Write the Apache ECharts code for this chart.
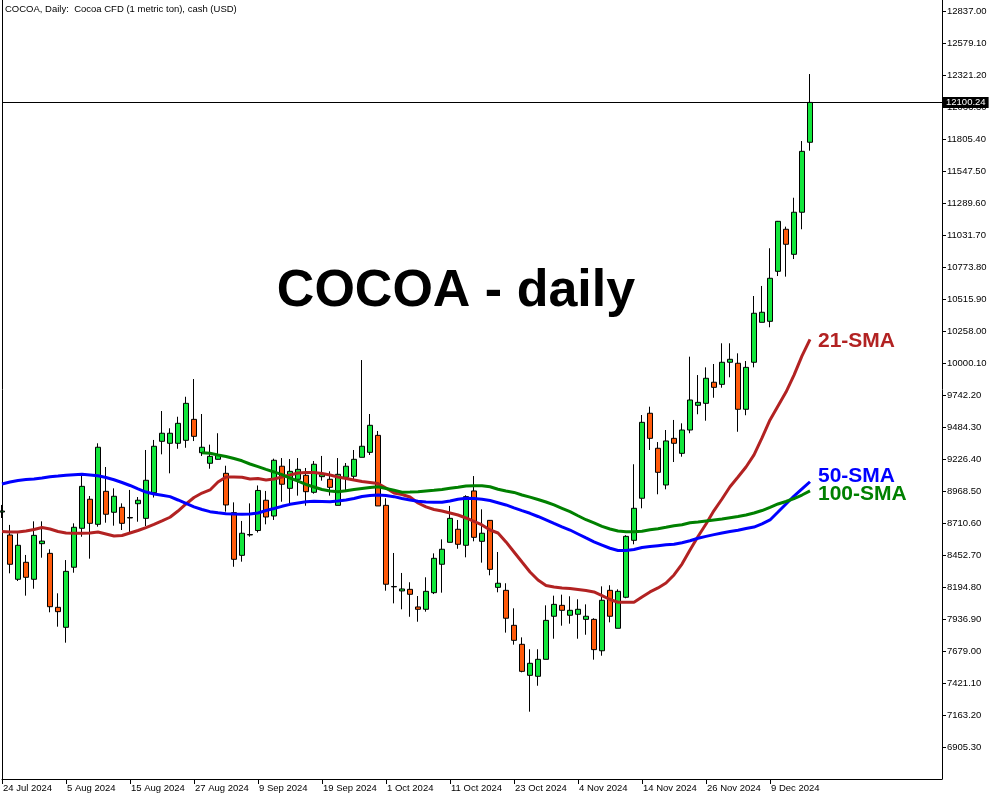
<!DOCTYPE html>
<html><head><meta charset="utf-8">
<script src="https://cdn.jsdelivr.net/npm/echarts@6/dist/echarts.min.js"></script>
<style>html,body{margin:0;padding:0;background:#fff}#c{width:1000px;height:800px}</style>
</head><body><div id="c"></div>
<script>
const dates = ['24 Jul 2024','25 Jul 2024','26 Jul 2024','29 Jul 2024','30 Jul 2024','31 Jul 2024',
'1 Aug 2024','2 Aug 2024','5 Aug 2024','6 Aug 2024','7 Aug 2024','8 Aug 2024','9 Aug 2024',
'12 Aug 2024','13 Aug 2024','14 Aug 2024','15 Aug 2024','16 Aug 2024','19 Aug 2024','20 Aug 2024',
'21 Aug 2024','22 Aug 2024','23 Aug 2024','26 Aug 2024','27 Aug 2024','28 Aug 2024','29 Aug 2024',
'30 Aug 2024','3 Sep 2024','4 Sep 2024','5 Sep 2024','6 Sep 2024','9 Sep 2024','10 Sep 2024',
'11 Sep 2024','12 Sep 2024','13 Sep 2024','16 Sep 2024','17 Sep 2024','18 Sep 2024','19 Sep 2024',
'20 Sep 2024','23 Sep 2024','24 Sep 2024','25 Sep 2024','26 Sep 2024','27 Sep 2024','30 Sep 2024',
'1 Oct 2024','2 Oct 2024','3 Oct 2024','4 Oct 2024','7 Oct 2024','8 Oct 2024','9 Oct 2024',
'10 Oct 2024','11 Oct 2024','14 Oct 2024','15 Oct 2024','16 Oct 2024','17 Oct 2024','18 Oct 2024',
'21 Oct 2024','22 Oct 2024','23 Oct 2024','24 Oct 2024','25 Oct 2024','28 Oct 2024','29 Oct 2024',
'30 Oct 2024','31 Oct 2024','1 Nov 2024','4 Nov 2024','5 Nov 2024','6 Nov 2024','7 Nov 2024',
'8 Nov 2024','11 Nov 2024','12 Nov 2024','13 Nov 2024','14 Nov 2024','15 Nov 2024','18 Nov 2024',
'19 Nov 2024','20 Nov 2024','21 Nov 2024','22 Nov 2024','25 Nov 2024','26 Nov 2024','27 Nov 2024',
'29 Nov 2024','2 Dec 2024','3 Dec 2024','4 Dec 2024','5 Dec 2024','6 Dec 2024','9 Dec 2024',
'10 Dec 2024','11 Dec 2024','12 Dec 2024','13 Dec 2024','16 Dec 2024'];

const open = [8799,8614,8257,8394,8257,8544,8466,8031,7870,8354,
8668,8902,8700,8966,8797,8837,8751,8866,8748,8955,
9369,9353,9353,9377,9546,9277,9192,9224,9111,8794,
8450,8614,8650,8894,8767,9168,8990,9063,9095,8958,
9084,9063,8853,9079,9087,9240,9280,9417,8853,8196,
8163,8176,8034,8015,8149,8378,8555,8660,8531,8969,
8563,8732,8192,8168,7886,7733,7483,7475,7612,7959,
8047,7967,7975,7934,7934,7681,8168,7862,8112,8571,
8910,9595,9313,9017,9393,9272,9460,9659,9675,9845,
9828,10006,9998,9627,10006,10328,10336,10739,11078,10876,
11215,11779];
const close = [8807,8378,8531,8273,8611,8565,8036,7996,8321,8676,
9006,8708,9321,8781,8926,8708,8755,8894,9055,9329,
9434,9434,9514,9675,9409,9321,9248,9259,8856,8418,
8628,8618,8973,8759,9216,9023,9127,9143,8963,9184,
9100,8998,9103,9168,9224,9329,9498,8848,8217,8199,
8179,8136,8015,8160,8426,8499,8748,8539,8923,8595,
8628,8337,8225,7943,7765,7515,7580,7612,7926,8055,
8007,8007,8015,7959,7690,8088,7959,8160,8603,8829,
9522,9393,9119,9372,9353,9460,9702,9683,9877,9804,
10006,10030,9627,9965,10401,10409,10683,11142,10957,11215,
11706,12100.24];
const low = [8751,8305,8243,8125,8181,8431,7991,7875,7746,8310,
8600,8423,8681,8713,8689,8654,8628,8721,8686,8916,
9264,9111,9309,9317,9371,9251,9148,9222,8802,8358,
8399,8600,8634,8700,8735,8882,8861,8931,8850,8947,
9052,8931,8853,8971,9057,9240,9259,8848,8165,8063,
8015,7955,7915,7996,8138,8149,8555,8503,8434,8563,
8391,8289,8152,7827,7730,7507,7190,7399,7612,7778,
7883,7899,7778,7810,7609,7641,7910,7862,8104,8539,
8829,9299,8942,8982,9202,9245,9434,9587,9535,9720,
9801,9885,9446,9579,9965,10328,10288,10701,10696,10838,
11078,11711];
const high = [8856,8695,8628,8453,8724,8724,8499,8144,8412,8708,
9097,8928,9353,9162,8990,8869,8977,8920,9299,9380,
9613,9474,9567,9728,9871,9589,9342,9434,9172,8877,
8727,8869,9013,8969,9229,9234,9226,9234,9154,9210,
9251,9127,9234,9194,9299,10024,9589,9452,8910,8469,
8308,8233,8122,8273,8466,8579,8848,8735,8934,9089,
8821,8734,8477,8225,8023,7789,7693,7693,8047,8125,
8133,8120,8096,8055,7943,8200,8209,8176,8612,9184,
9581,9648,9363,9460,9541,9514,10051,9903,9965,9992,
10159,10159,10078,10016,10540,10621,10925,11145,11099,11332,
11789,12329];

const sma21 = [8642,8638,8638,8646,8658,8674,8662,8642,8630,8628,
8628,8630,8638,8622,8606,8610,8630,8650,8674,8699,
8727,8757,8807,8864,8916,8952,8977,9041,9081,9081,
9079,9065,9069,9057,9065,9081,9097,9114,9118,9118,
9110,9097,9081,9069,9057,9045,9037,9029,8993,8952,
8940,8920,8872,8840,8819,8807,8791,8775,8751,8723,
8695,8654,8630,8558,8477,8396,8316,8251,8207,8195,
8187,8183,8175,8167,8155,8126,8094,8072,8072,8072,
8114,8155,8187,8227,8292,8380,8493,8602,8703,8811,
8904,9003,9081,9162,9259,9396,9541,9654,9766,9903,
10057,10190];
const sma50 = [9025,9041,9053,9061,9065,9073,9084,9089,9095,9099,
9103,9097,9091,9077,9059,9037,9013,8985,8960,8944,
8934,8923,8896,8868,8840,8819,8802,8793,8786,8783,
8781,8783,8791,8811,8827,8845,8861,8872,8881,8886,
8884,8882,8888,8896,8908,8924,8932,8936,8932,8923,
8908,8896,8886,8880,8877,8877,8888,8902,8910,8908,
8902,8892,8874,8856,8832,8810,8789,8763,8735,8707,
8680,8654,8622,8590,8559,8533,8507,8489,8489,8497,
8513,8521,8528,8535,8539,8552,8568,8588,8603,8617,
8630,8642,8652,8666,8678,8704,8735,8799,8864,8928,
8985,9043];
const sma100 = [null,null,null,null,null,null,null,null,null,null,
null,null,null,null,null,null,null,null,null,null,
null,null,null,null,null,9277,9272,9259,9247,9230,
9212,9186,9165,9143,9122,9100,9073,9049,9021,9001,
8981,8969,8963,8971,8981,8989,8997,9003,8989,8975,
8959,8960,8963,8969,8974,8981,8990,8999,9009,9011,
9011,9003,8983,8969,8957,8936,8919,8900,8880,8856,
8829,8802,8769,8737,8711,8684,8662,8646,8641,8641,
8644,8656,8665,8676,8688,8697,8713,8719,8727,8735,
8743,8753,8763,8775,8791,8811,8836,8864,8884,8908,
8936,8969];

const xTickIdx = [0,8,16,24,32,40,48,56,64,72,80,88,96];
const yTicks = [6905.30,7163.20,7421.10,7679.00,7936.90,8194.80,8452.70,8710.60,8968.50,
9226.40,9484.30,9742.20,10000.10,10258.00,10515.90,10773.80,11031.70,11289.60,11547.50,
11805.40,12063.30,12321.20,12579.10,12837.00];
const lastPrice = 12100.24;

const FONT = '"Liberation Sans", Arial, sans-serif';
const Y_MIN = 6647.4, Y_MAX = 12925.65;

const candles = dates.map((d, i) => [i, open[i], close[i], low[i], high[i]]);
const toLine = arr => arr.map((v, i) => v == null ? null : [i, v]).filter(p => p);

const chart = echarts.init(document.getElementById('c'), null, {renderer: 'canvas'});
chart.setOption({
  animation: false,
  backgroundColor: '#fff',
  grid: {left: 2, top: 0, right: 58, bottom: 21},
  xAxis: {
    type: 'value', min: 0, max: 117.5,
    axisLine: {show: true, onZero: false, lineStyle: {color: '#000', width: 1}},
    axisTick: {show: true, customValues: xTickIdx, length: 5, lineStyle: {color: '#000', width: 1}},
    axisLabel: {customValues: xTickIdx, formatter: v => dates[v] || '', align: 'left', margin: 4,
      fontFamily: FONT, fontSize: 9.5, color: '#000', padding: [0, 0, 0, 1]},
    splitLine: {show: false}
  },
  yAxis: [{
    type: 'value', position: 'right', min: Y_MIN, max: Y_MAX,
    axisLine: {show: true, onZero: false, lineStyle: {color: '#000', width: 1}},
    axisTick: {show: true, customValues: yTicks, length: 4, lineStyle: {color: '#000', width: 1}},
    axisLabel: {customValues: yTicks, formatter: v => v.toFixed(2), margin: 5,
      fontFamily: FONT, fontSize: 9.5, color: '#000'},
    splitLine: {show: false}
  }, {
    type: 'value', position: 'left', min: Y_MIN, max: Y_MAX,
    axisLine: {show: true, onZero: false, lineStyle: {color: '#000', width: 1}},
    axisTick: {show: false}, axisLabel: {show: false}, splitLine: {show: false}
  }],
  series: [{
    type: 'candlestick',
    data: candles,
    barWidth: 5,
    z: 2,
    itemStyle: {color: '#12e63c', color0: '#ff5a0a', borderColor: '#000', borderColor0: '#000', borderColorDoji: '#000', borderWidth: 1},
    markLine: {
      symbol: 'none', silent: true, animation: false,
      lineStyle: {color: '#000', width: 1, type: 'solid'},
      label: {position: 'end', formatter: () => lastPrice.toFixed(2), backgroundColor: '#000', color: '#fff',
        padding: [1, 3, 0, 3], fontFamily: FONT, fontSize: 9.5, distance: 1},
      data: [{yAxis: lastPrice}]
    }
  }, {
    type: 'line', data: toLine(sma21), showSymbol: false, symbol: 'none', z: 3,
    lineStyle: {color: '#b22222', width: 3}
  }, {
    type: 'line', data: toLine(sma50), showSymbol: false, symbol: 'none', z: 3,
    lineStyle: {color: '#0000ff', width: 3}
  }, {
    type: 'line', data: toLine(sma100), showSymbol: false, symbol: 'none', z: 3,
    lineStyle: {color: '#008000', width: 3}
  }],
  graphic: [
    {type: 'text', z: 10, style: {text: 'COCOA, Daily:  Cocoa CFD (1 metric ton), cash (USD)', x: 5, y: 9,
      align: 'left', textAlign: 'left', verticalAlign: 'middle', textVerticalAlign: 'middle',
      font: '9.5px ' + FONT, fill: '#000'}},
    {type: 'text', z: 10, style: {text: 'COCOA - daily', x: 456, y: 292,
      align: 'center', textAlign: 'center', verticalAlign: 'middle', textVerticalAlign: 'middle',
      font: 'bold 52px ' + FONT, fill: '#000'}},
    {type: 'text', z: 10, style: {text: '21-SMA', x: 818, y: 341,
      align: 'left', textAlign: 'left', verticalAlign: 'middle', textVerticalAlign: 'middle',
      font: 'bold 21px ' + FONT, fill: '#b22222'}},
    {type: 'text', z: 10, style: {text: '50-SMA', x: 818, y: 476,
      align: 'left', textAlign: 'left', verticalAlign: 'middle', textVerticalAlign: 'middle',
      font: 'bold 21px ' + FONT, fill: '#0000ff'}},
    {type: 'text', z: 10, style: {text: '100-SMA', x: 818, y: 494,
      align: 'left', textAlign: 'left', verticalAlign: 'middle', textVerticalAlign: 'middle',
      font: 'bold 21px ' + FONT, fill: '#008000'}}
  ]
});
</script>
</body></html>
